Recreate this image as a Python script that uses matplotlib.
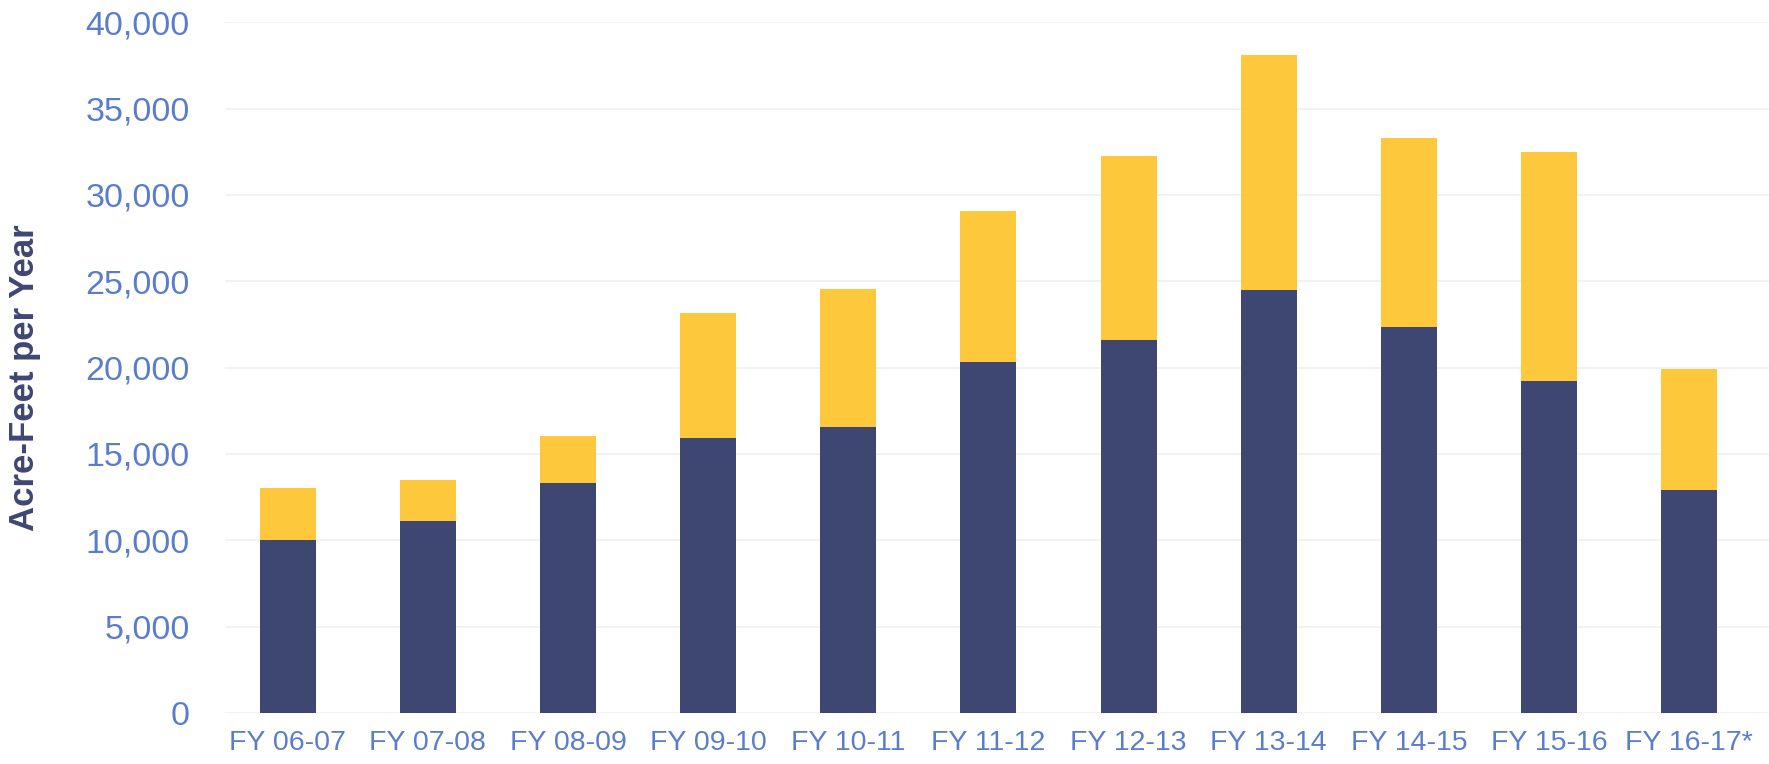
import matplotlib
matplotlib.use("Agg")
import matplotlib.pyplot as plt
from matplotlib.ticker import FuncFormatter

years = ["FY 06-07", "FY 07-08", "FY 08-09", "FY 09-10", "FY 10-11", "FY 11-12",
         "FY 12-13", "FY 13-14", "FY 14-15", "FY 15-16", "FY 16-17*"]
base = [10000, 11130, 13340, 15930, 16550, 20350, 21620, 24490, 22350, 19220, 12900]
top = [3000, 2340, 2670, 7220, 8010, 8720, 10610, 13630, 10920, 13240, 7030]

navy = "#3e4672"
gold = "#fdc83c"
tick_blue = "#5a7dcb"

plt.rcParams["font.family"] = ["Liberation Sans", "DejaVu Sans"]

fig = plt.figure(figsize=(17.69, 7.64), dpi=100)
ax = fig.add_axes([0.127, 0.0668, 0.873, 0.9042])

x = range(len(years))
ax.bar(x, base, width=0.40, color=navy, zorder=2)
ax.bar(x, top, width=0.40, bottom=base, color=gold, zorder=2)

ax.set_ylim(0, 40000)
ax.set_xlim(-0.45, 10.57)
ax.set_yticks(range(0, 40001, 5000))
ax.yaxis.set_major_formatter(FuncFormatter(lambda v, p: f"{int(v):,}"))
ax.set_xticks(list(x))
ax.set_xticklabels(years)

ax.grid(axis="y", color="#f0f0f0", linewidth=1.2, zorder=0)
for s in ax.spines.values():
    s.set_visible(False)
ax.tick_params(axis="both", length=0, colors=tick_blue)
ax.tick_params(axis="y", labelsize=24.5, pad=25)
ax.tick_params(axis="x", labelsize=20.5, pad=12)

fig.text(0.014, 0.505, "Acre-Feet per Year", rotation=90, fontsize=25,
         fontweight="bold", color=navy, ha="center", va="center")

fig.savefig("out.png", dpi=100)
